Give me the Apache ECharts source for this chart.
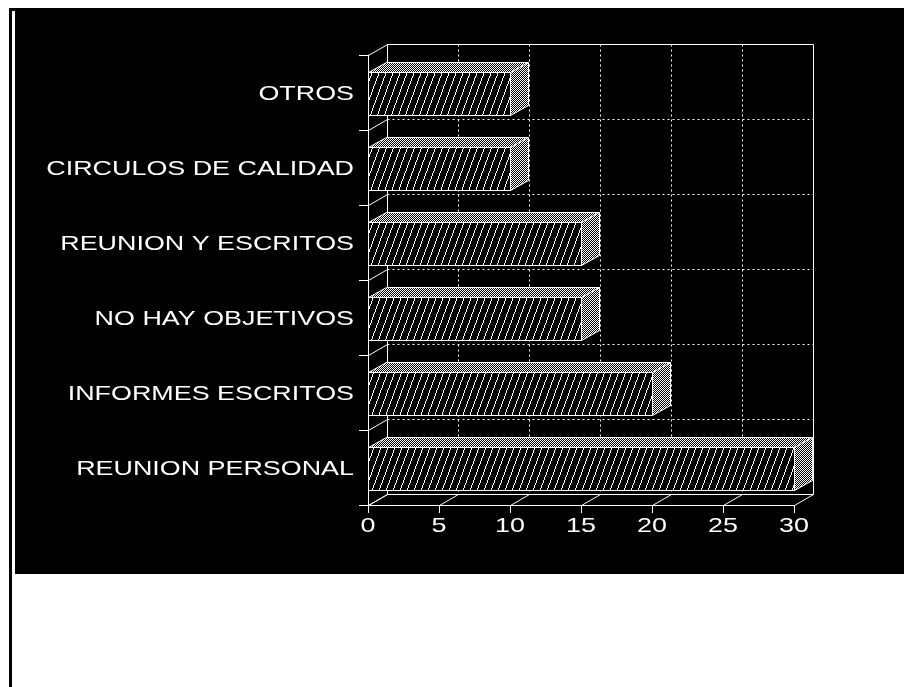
<!DOCTYPE html>
<html>
<head>
<meta charset="utf-8">
<script src="https://cdn.jsdelivr.net/npm/echarts@6/dist/echarts.min.js"></script>
<style>
  html, body { margin: 0; padding: 0; background: #fff; }
  #chart { width: 907px; height: 687px; }
</style>
</head>
<body>
<div id="chart"></div>
<script>
// Categories, top to bottom, and their values
const categories = ['OTROS', 'CIRCULOS DE CALIDAD', 'REUNION Y ESCRITOS', 'NO HAY OBJETIVOS', 'INFORMES ESCRITOS', 'REUNION PERSONAL'];
const values = [10, 10, 15, 15, 20, 30];
const xTicks = [0, 5, 10, 15, 20, 25, 30];

// 3D depth of the back wall and of the bars (pixels)
const WALL_DX = 19, WALL_DY = -11;
const BAR_DX = 18, BAR_DY = -10;
const FONT = '21px "Liberation Sans", Arial, sans-serif';
const TEXT_STRETCH = 1.28;

// Fill patterns: diagonal hatch for the bar fronts, fine checker for tops and sides
function makeHatch() {
  const w = 7, h = 19;
  const c = document.createElement('canvas');
  c.width = w; c.height = h;
  const ctx = c.getContext('2d');
  ctx.fillStyle = '#000';
  ctx.fillRect(0, 0, w, h);
  ctx.fillStyle = '#fff';
  for (let r = 0; r < h; r++) {
    const x = Math.floor((h - 1 - r) * w / h);
    ctx.fillRect(x, r, 1, 1);
  }
  return c;
}
function makeChecker() {
  const c = document.createElement('canvas');
  c.width = 2; c.height = 2;
  const ctx = c.getContext('2d');
  ctx.fillStyle = '#000';
  ctx.fillRect(0, 0, 2, 2);
  ctx.fillStyle = '#fff';
  ctx.fillRect(0, 0, 1, 1);
  ctx.fillRect(1, 1, 1, 1);
  return c;
}
const hatch = { image: makeHatch(), repeat: 'repeat' };
const checker = { image: makeChecker(), repeat: 'repeat' };

const px = v => Math.round(v) + 0.5;
const solid = { stroke: '#fff', lineWidth: 1, fill: null };
const dotted = { stroke: '#fff', lineWidth: 1, lineDash: [2, 3], fill: null };

function seg(x1, y1, x2, y2, style) {
  return { type: 'line', shape: { x1: px(x1), y1: px(y1), x2: px(x2), y2: px(y2) }, style: style, silent: true };
}

// Back wall, floor, grid and the diagonal ties between front and back planes
function renderFrame(params, api) {
  const cs = params.coordSys;
  const x0 = cs.x, x1 = cs.x + cs.width, y0 = cs.y, y1 = cs.y + cs.height;
  const band = api.size([0, 1])[1];
  const ch = [];
  const bx0 = x0 + WALL_DX, bx1 = x1 + WALL_DX, by0 = y0 + WALL_DY, by1 = y1 + WALL_DY;

  // dotted grid on the back wall
  xTicks.forEach(t => {
    if (t === xTicks[0] || t === xTicks[xTicks.length - 1]) return;
    const x = api.coord([t, 0])[0] + WALL_DX;
    ch.push(seg(x, by0, x, by1, dotted));
  });
  for (let i = 1; i < categories.length; i++) {
    const yb = api.coord([0, i])[1] - band / 2 + WALL_DY;
    ch.push(seg(bx0, yb, bx1, yb, dotted));
  }
  // back wall outline and back floor edge
  ch.push(seg(bx0, by0, bx1, by0, solid));
  ch.push(seg(bx0, by0, bx0, by1, solid));
  ch.push(seg(bx1, by0, bx1, by1, solid));
  ch.push(seg(bx0, by1, bx1, by1, solid));
  // floor ties at each value tick
  xTicks.forEach(t => {
    const x = api.coord([t, 0])[0];
    ch.push(seg(x, y1, x + WALL_DX, y1 + WALL_DY, solid));
  });
  // left wall ties at each category boundary
  for (let i = 0; i <= categories.length; i++) {
    const yb = i < categories.length ? api.coord([0, i])[1] - band / 2 : y1;
    ch.push(seg(x0, yb, x0 + WALL_DX, yb + WALL_DY, solid));
  }
  return { type: 'group', children: ch };
}

// One 3D bar: hatched front, checkered top and side
function renderBar(params, api) {
  const v = api.value(0), idx = api.value(1);
  const band = api.size([0, 1])[1];
  const start = api.coord([0, idx]);
  const end = api.coord([v, idx]);
  const h = band * 0.57;
  const xa = Math.round(start[0]) + 0.5, xb = Math.round(end[0]) + 0.5;
  const yt = Math.round(start[1] - h / 2 + 1) + 0.5, yb = Math.round(start[1] + h / 2 + 1) + 0.5;
  const edge = { stroke: '#fff', lineWidth: 1 };
  return {
    type: 'group',
    children: [
      { type: 'polygon', shape: { points: [[xa, yt], [xb, yt], [xb + BAR_DX, yt + BAR_DY], [xa + BAR_DX, yt + BAR_DY]] },
        style: Object.assign({ fill: checker }, edge) },
      { type: 'polygon', shape: { points: [[xb, yt], [xb + BAR_DX, yt + BAR_DY], [xb + BAR_DX, yb + BAR_DY], [xb, yb]] },
        style: Object.assign({ fill: checker }, edge) },
      { type: 'rect', shape: { x: xa, y: yt, width: xb - xa, height: yb - yt },
        style: Object.assign({ fill: hatch }, edge) }
    ]
  };
}

// Category names left of the front axis
function renderCatLabel(params, api) {
  const idx = api.value(1);
  const p = api.coord([0, idx]);
  const name = categories[idx];
  return {
    type: 'text', x: p[0] - 14, y: p[1] + 2, scaleX: TEXT_STRETCH, silent: true,
    style: { text: name, fill: '#fff', font: FONT, align: 'right', verticalAlign: 'middle', textAlign: 'right', textVerticalAlign: 'middle' }
  };
}

// Value tick labels under the floor
function renderTickLabel(params, api) {
  const v = api.value(0);
  const cs = params.coordSys;
  const x = api.coord([v, 0])[0];
  return {
    type: 'text', x: x, y: cs.y + cs.height + 21, scaleX: TEXT_STRETCH, silent: true,
    style: { text: String(v), fill: '#fff', font: FONT, align: 'center', verticalAlign: 'middle', textAlign: 'center', textVerticalAlign: 'middle' }
  };
}

const chart = echarts.init(document.getElementById('chart'), null, { renderer: 'canvas' });
chart.setOption({
  backgroundColor: '#fff',
  animation: false,
  graphic: [
    { type: 'rect', z: -10, shape: { x: 9, y: 8, width: 895, height: 566 }, style: { fill: '#000' } },
    { type: 'rect', z: -9, shape: { x: 12, y: 11, width: 3, height: 563 }, style: { fill: '#fff' } },
    { type: 'rect', z: -9, shape: { x: 9, y: 574, width: 3, height: 113 }, style: { fill: '#000' } }
  ],
  grid: { left: 368, right: 113, top: 55, bottom: 182, containLabel: false },
  xAxis: {
    type: 'value', min: 0, max: 30, interval: 5,
    axisLine: { show: true, lineStyle: { color: '#fff', width: 1 } },
    axisTick: { show: true, length: 8, lineStyle: { color: '#fff', width: 1 } },
    axisLabel: { show: false },
    splitLine: { show: false }
  },
  yAxis: {
    type: 'category', data: categories, inverse: true,
    axisLine: { show: true, lineStyle: { color: '#fff', width: 1 } },
    axisTick: { show: true, length: 9, lineStyle: { color: '#fff', width: 1 } },
    axisLabel: { show: false },
    splitLine: { show: false }
  },
  series: [
    { type: 'custom', name: 'frame', z: 1, silent: true, renderItem: renderFrame, data: [[0, 0]] },
    { type: 'custom', name: 'bars', z: 3, renderItem: renderBar, data: values.map((v, i) => [v, i]) },
    { type: 'custom', name: 'catLabels', z: 4, silent: true, renderItem: renderCatLabel, data: categories.map((c, i) => [0, i]) },
    { type: 'custom', name: 'tickLabels', z: 4, silent: true, renderItem: renderTickLabel, data: xTicks.map(t => [t, 0]) }
  ]
});
</script>
</body>
</html>
